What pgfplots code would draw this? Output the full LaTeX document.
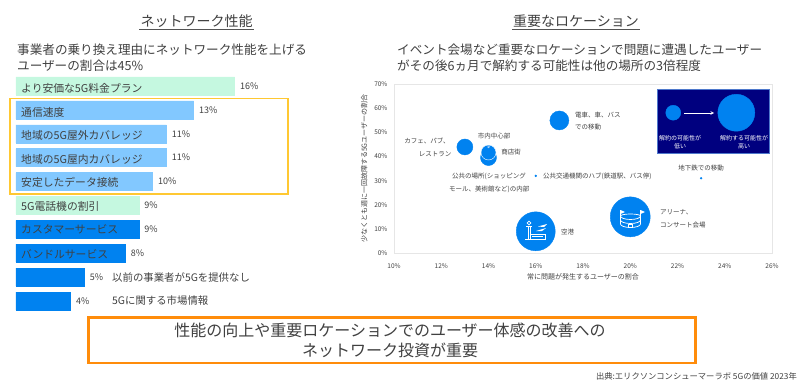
\documentclass[border=0pt]{standalone}
\usepackage{pgfplots}
\usepackage{fontspec}
\pgfplotsset{compat=1.18}
\setmainfont{Noto Sans CJK JP}
\definecolor{txt}{HTML}{404040}
\definecolor{mint}{HTML}{C5F8E0}
\definecolor{lblue}{HTML}{82C8FF}
\definecolor{eblue}{HTML}{0082F0}
\definecolor{navy2}{HTML}{00007F}
\definecolor{ybox}{HTML}{FFC832}
\definecolor{obox}{HTML}{FF8C0A}
\definecolor{frame}{HTML}{E6E6E6}
\begin{document}
\begin{tikzpicture}
\path[use as bounding box] (0pt,0pt) rectangle (800pt,386pt);
% bar chart
\begin{axis}[
  at={(16pt,76pt)},anchor=south west,scale only axis,width=273.2pt,height=233pt,
  xmin=0,xmax=20,ymin=-0.375,ymax=9.375,y dir=reverse,
  axis lines=none,clip=false,xbar,bar width=18pt,
  /pgf/number format/assume math mode=true,
  nodes near coords={\pgfmathprintnumber{\pgfplotspointmeta}\%},
  every node near coord/.append style={font=\fontsize{9}{9}\selectfont\color{txt},xshift=2pt},
  point meta=x]
\addplot[bar shift=0pt,fill=mint,draw=mint] coordinates {(16,0) (9,5)};
\addplot[bar shift=0pt,fill=lblue,draw=lblue] coordinates {(13,1) (11,2) (11,3) (10,4)};
\addplot[bar shift=0pt,fill=eblue,draw=eblue] coordinates {(9,6) (8,7) (5,8) (4,9)};
\end{axis}
% scatter
\begin{axis}[
  at={(394pt,133pt)},anchor=south west,scale only axis,width=378pt,height=168.7pt,
  xmin=10,xmax=26,ymin=0,ymax=70,
  axis line style={frame,line width=0.8pt},
  xtick={10,12,...,26},ytick={0,10,...,70},
  tick style={draw=none},
  xticklabel={\pgfmathprintnumber{\tick}\%},
  yticklabel={\pgfmathprintnumber{\tick}\%},
  /pgf/number format/assume math mode=true,
  tick label style={font=\fontsize{6.5}{6.5}\selectfont\color{txt}},
  xticklabel style={yshift=-7pt},
  yticklabel style={xshift=-3pt},
  xlabel={常に問題が発生するユーザーの割合},
  ylabel={少なくとも週に一回故障する5Gユーザーの割合},
  xlabel style={font=\fontsize{7}{7}\selectfont\color{txt},yshift=2pt},
  ylabel style={font=\fontsize{7}{7}\selectfont\color{txt},yshift=0pt},
  clip=false]
\fill[navy2,draw=lblue!60!navy2,line width=0.4pt] (axis cs:21.14,67.9) rectangle (axis cs:25.89,41.4);
\addplot[only marks,mark=*,mark size=8pt,color=eblue,mark options={draw=eblue}] coordinates {(13,44)};
\addplot[only marks,mark=*,mark size=8pt,color=eblue,mark options={draw=eblue}] coordinates {(14,39.6)};
\addplot[only marks,mark=*,mark size=7.5pt,color=eblue,mark options={draw=white,line width=0.4pt}] coordinates {(14,41.7)};
\addplot[only marks,mark=*,mark size=1pt,color=eblue,mark options={draw=white,line width=0.3pt}] coordinates {(14,44)};
\addplot[only marks,mark=*,mark size=9.5pt,color=eblue,mark options={draw=eblue}] coordinates {(17,55)};
\addplot[only marks,mark=*,mark size=0.9pt,color=eblue,mark options={draw=eblue}] coordinates {(16,32) (23,31)};
\addplot[only marks,mark=*,mark size=19.5pt,color=eblue,mark options={draw=eblue}] coordinates {(16,9)};
\addplot[only marks,mark=*,mark size=20pt,color=eblue,mark options={draw=eblue}] coordinates {(20,15)};
\addplot[only marks,mark=*,mark size=7.5pt,color=eblue,mark options={draw=eblue}] coordinates {(21.82,58.2)};
\addplot[only marks,mark=*,mark size=18.5pt,color=eblue,mark options={draw=eblue}] coordinates {(24.49,58.2)};
\end{axis}
\begin{scope}[x=1pt,yshift=386pt,y=-1pt]
% titles
\node[anchor=center,font=\fontsize{14}{14}\selectfont\color{txt}] at (196.5,21) {ネットワーク性能};
\draw[line width=0.9pt,color=txt!90] (139,29) -- (254,29);
\node[anchor=center,font=\fontsize{14}{14}\selectfont\color{txt}] at (576,21) {重要なロケーション};
\draw[line width=0.9pt,color=txt!90] (512,29) -- (640,29);
\node[anchor=west,inner sep=0pt,font=\fontsize{12.6}{12.6}\selectfont\color{txt}] at (17,50) {事業者の乗り換え理由にネットワーク性能を上げる};
\node[anchor=west,inner sep=0pt,font=\fontsize{12.6}{12.6}\selectfont\color{txt}] at (17,65.5) {ユーザーの割合は45\%};
\node[anchor=west,inner sep=0pt,font=\fontsize{12.6}{12.6}\selectfont\color{txt}] at (397,50) {イベント会場など重要なロケーションで問題に遭遇したユーザー};
\node[anchor=west,inner sep=0pt,font=\fontsize{12.6}{12.6}\selectfont\color{txt}] at (397,65.5) {がその後6ヵ月で解約する可能性は他の場所の3倍程度};
\foreach \yy/\tt in {88/より安価な5G料金プラン,112/通信速度,135.5/地域の5G屋外カバレッジ,159/地域の5G屋内カバレッジ,182.5/安定したデータ接続,206/5G電話機の割引,229.5/カスタマーサービス,254/バンドルサービス}{
  \node[anchor=west,inner sep=0pt,font=\fontsize{10.8}{10.8}\selectfont\color{txt}] at (21,\yy) {\tt};
}
\node[anchor=west,inner sep=0pt,font=\fontsize{10.4}{10.4}\selectfont\color{txt}] at (112,277.5) {以前の事業者が5Gを提供なし};
\node[anchor=west,inner sep=0pt,font=\fontsize{10.4}{10.4}\selectfont\color{txt}] at (112,301) {5Gに関する市場情報};
\draw[ybox,line width=1.3pt] (10,98.5) rectangle (288,194);
% inset arrow and texts
\draw[white,line width=0.6pt,-stealth] (684,113) -- (714,113);
\node[align=center,inner sep=0pt,font=\fontsize{6}{8}\selectfont\color{white}] at (680,142) {解約の可能性が\\低い};
\node[align=center,inner sep=0pt,font=\fontsize{6}{8}\selectfont\color{white}] at (744,142) {解約する可能性が\\高い};
% scatter labels
\def\sl#1#2#3#4{\node[anchor=#1,inner sep=0pt,font=\fontsize{6.5}{6.5}\selectfont\color{txt}] at (#2,#3) {#4};}
\sl{center}{427}{141}{カフェ、パブ、}
\sl{center}{435}{154}{レストラン}
\sl{center}{494}{136}{市内中心部}
\sl{center}{511}{152.5}{商店街}
\sl{west}{452}{176}{公共の場所(ショッピング}
\sl{west}{449}{189.5}{モール、美術館など)の内部}
\sl{west}{543}{176}{公共交通機関のハブ(鉄道駅、バス停)}
\sl{west}{575}{115}{電車、車、バス}
\sl{west}{575}{127.5}{での移動}
\sl{center}{701}{168}{地下鉄での移動}
\sl{west}{561}{232}{空港}
\sl{west}{660}{212.5}{アリーナ、}
\sl{west}{660}{225}{コンサート会場}
% airport icon
\begin{scope}[white,line width=0.7pt]
\draw (529,223) circle (1.8);
\draw (526,226) -- (532,226);
\draw (528,227) -- (528,239) (530,227) -- (530,239);
\draw (530,234) -- (545,234) -- (545,239.5) -- (525,239.5);
\draw (532,236.8) -- (543,236.8);
\fill (536,231) -- (546,228) -- (542,231) -- cycle;
\fill (538,226.5) -- (547,224) -- (544,227) -- cycle;
\end{scope}
% stadium icon
\begin{scope}[white,line width=0.7pt]
\draw (620.5,216) arc (180:0:10 and 3.5);
\draw (620.5,216) arc (180:360:10 and 2);
\draw (620.5,216) -- (620.5,224) arc (180:0:10 and 3.5) -- (640.5,216);
\draw (620.5,220) arc (180:0:10 and 3.5);
\draw (620.5,216) -- (620.5,210) (640.5,216) -- (640.5,210);
\fill (620.5,210) -- (625,212) -- (620.5,214) -- cycle;
\fill (640.5,210) -- (645,212) -- (640.5,214) -- cycle;
\draw (628.5,227.5) rectangle (632.5,224.5);
\end{scope}
% bottom box
\draw[obox,line width=2.5pt] (88.5,317.5) rectangle (695.5,363);
\node[font=\fontsize{16}{16}\selectfont\color{txt},inner sep=0pt] at (390,330) {性能の向上や重要ロケーションでのユーザー体感の改善への};
\node[font=\fontsize{16}{16}\selectfont\color{txt},inner sep=0pt] at (390,350) {ネットワーク投資が重要};
\node[anchor=east,inner sep=0pt,font=\fontsize{8.3}{8.3}\selectfont\color{txt}] at (797,376) {出典:エリクソンコンシューマーラボ 5Gの価値 2023年};
\end{scope}
\end{tikzpicture}
\end{document}
